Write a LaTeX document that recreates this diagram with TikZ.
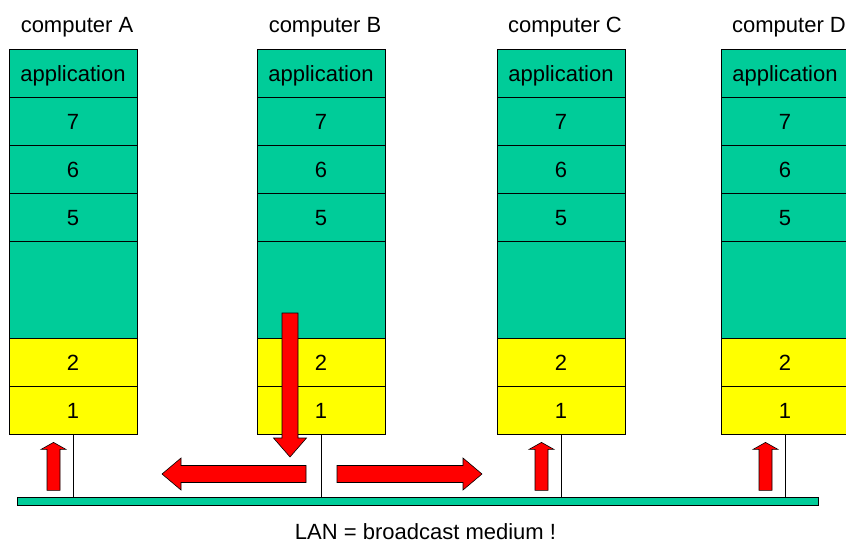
\documentclass[tikz,border=0pt]{standalone}
\usepackage{fontspec}
\setmainfont{Liberation Sans}
\definecolor{layergreen}{RGB}{0,204,153}
\definecolor{layeryellow}{RGB}{255,255,0}
\definecolor{arrowred}{RGB}{255,0,0}
\begin{document}
\begin{tikzpicture}[x=1pt,y=-1pt,
  every node/.style={font=\fontsize{22}{26}\selectfont},
  layer/.style={draw=black, line width=0.8pt, minimum width=128pt, minimum height=48pt,
    inner sep=0pt, text height=16pt, text depth=0pt, anchor=center},
  upper/.style={layer, fill=layergreen},
  lower/.style={layer, fill=layeryellow},
  title/.style={anchor=base, inner sep=0pt},
  blockarrow/.style={fill=arrowred, draw=black, line width=0.6pt, line join=miter},
  link/.style={draw=black, line width=0.8pt}]
\useasboundingbox (0,0) rectangle (846,547);

\node[draw=black, line width=0.8pt, fill=layergreen, minimum width=801pt, minimum height=8pt, inner sep=0pt] (lan) at (417.5,501) {};

\foreach \n/\x in {A/73, B/321, C/561, D/785}{
  \node[title] (\n-title) at (\x+4,32) {computer \n};
  \node[upper] (\n-app) at (\x,73) {application};
  \node[upper] (\n-7) at (\x,121) {7};
  \node[upper] (\n-6) at (\x,169) {6};
  \node[upper] (\n-5) at (\x,217) {5};
  \node[upper, minimum height=97pt] (\n-4) at (\x,289.5) {};
  \node[lower] (\n-2) at (\x,362) {2};
  \node[lower] (\n-1) at (\x,410) {1};
  \draw[link] (\n-1.south) -- (\n-1.south |- lan.north);
}

% upward receive arrows
\foreach \n in {A, C, D}{
  \path (\n-1.south) ++(-19.5,0) coordinate (\n-up);
  \draw[blockarrow] (\n-up) ++(0,8) -- ++(12.5,7) -- ++(-6,0) -- ++(0,41) -- ++(-13,0)
    -- ++(0,-41) -- ++(-6,0) -- cycle;
}

% send arrows from computer B
\coordinate (down) at (290,313);
\draw[blockarrow] (down) ++(-8,0) -- ++(16,0) -- ++(0,125) -- ++(8.5,0) -- ++(-16.5,19)
  -- ++(-16.5,-19) -- ++(8.5,0) -- cycle;

\coordinate (left) at (306,474);
\draw[blockarrow] (left) ++(0,-8.5) -- ++(0,17) -- ++(-125,0) -- ++(0,7.5) -- ++(-19,-16)
  -- ++(19,-16) -- ++(0,7.5) -- cycle;

\coordinate (right) at (337,474);
\draw[blockarrow] (right) ++(0,-8.5) -- ++(0,17) -- ++(126,0) -- ++(0,7.5) -- ++(19,-16)
  -- ++(-19,-16) -- ++(0,7.5) -- cycle;

\node[title] (caption) at (425.5,539) {LAN = broadcast medium !};
\end{tikzpicture}
\end{document}
